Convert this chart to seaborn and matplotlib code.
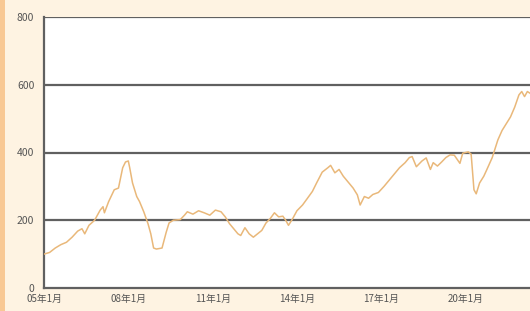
import pandas as pd
import matplotlib.pyplot as plt
import seaborn as sns
from matplotlib.patches import Rectangle

# 年（小数）と値
years = [2005.0, 2005.2, 2005.4, 2005.6, 2005.8, 2006.0, 2006.2, 2006.35, 2006.45, 2006.6,
         2006.8, 2007.0, 2007.1, 2007.15, 2007.3, 2007.5, 2007.65, 2007.8, 2007.9, 2008.0,
         2008.05, 2008.15, 2008.3, 2008.4, 2008.55, 2008.7, 2008.8, 2008.9, 2009.0, 2009.2,
         2009.35, 2009.45, 2009.6, 2009.85, 2010.0, 2010.1, 2010.3, 2010.5, 2010.7, 2010.9,
         2011.1, 2011.3, 2011.45, 2011.6, 2011.75, 2011.9, 2012.0, 2012.15, 2012.3, 2012.45,
         2012.6, 2012.75, 2012.9, 2013.05, 2013.2, 2013.35, 2013.5, 2013.6, 2013.7, 2013.85,
         2014.0, 2014.2, 2014.35, 2014.55, 2014.7, 2014.9, 2015.1, 2015.2, 2015.35, 2015.5,
         2015.65, 2015.85, 2016.0, 2016.15, 2016.25, 2016.4, 2016.55, 2016.7, 2016.9, 2017.1,
         2017.3, 2017.5, 2017.65, 2017.85, 2018.0, 2018.1, 2018.25, 2018.45, 2018.6, 2018.75,
         2018.85, 2019.0, 2019.15, 2019.3, 2019.45, 2019.6, 2019.8, 2019.9, 2020.1, 2020.2,
         2020.3, 2020.38, 2020.5, 2020.65, 2020.75, 2020.95, 2021.15, 2021.3, 2021.45, 2021.6,
         2021.75, 2021.9, 2022.0, 2022.1, 2022.2, 2022.35]
values = [100, 105, 118, 128, 135, 150, 168, 175, 160, 185,
          200, 230, 240, 222, 255, 290, 295, 355, 372, 375,
          355, 310, 270, 255, 225, 190, 160, 118, 115, 118,
          165, 192, 200, 202, 215, 225, 218, 228, 222, 215,
          230, 225, 210, 190, 175, 160, 155, 178, 160, 150,
          160, 170, 192, 205, 222, 210, 212, 200, 185, 205,
          228, 245, 262, 285, 310, 342, 355, 362, 340, 350,
          330, 310, 295, 275, 245, 270, 265, 276, 282, 300,
          320, 340, 355, 370, 385, 388, 358, 375, 384, 350,
          370, 360, 372, 385, 393, 392, 368, 398, 402, 395,
          290, 278, 310, 330, 348, 385, 437, 465, 485, 505,
          534, 570, 580, 565, 580, 572]

tick_years = [2005, 2008, 2011, 2014, 2017, 2020]
tick_labels = ["05年1月", "08年1月", "11年1月", "14年1月", "17年1月", "20年1月"]
y_ticks = [0, 200, 400, 600, 800]

df = pd.DataFrame({"year": years, "value": values})

sns.set_style("white")
plt.rcParams['font.family'] = ['Noto Sans CJK JP', 'DejaVu Sans']

fig = plt.figure(figsize=(5.3, 3.11), dpi=100, facecolor="#fef3e2")
ax = fig.add_axes([44 / 530, 23 / 311, 496 / 530, 271 / 311])
ax.set_facecolor("white")

# 左端のオレンジの帯
fig.patches.append(Rectangle((0, 0), 5 / 530, 1, transform=fig.transFigure,
                             facecolor="#f8c894", edgecolor="none", zorder=0))

for y in [200, 400, 600, 800]:
    ax.axhline(y, color="#606060", lw=1.6, zorder=1)

sns.lineplot(data=df, x="year", y="value", ax=ax, color="#e9b87a", lw=1.1, zorder=3)

ax.set_xlim(2005, 2022.65)
ax.set_ylim(0, 800)
ax.set_xticks(tick_years)
ax.set_xticklabels(tick_labels)
ax.set_xticks(range(2005, 2023), minor=True)
ax.set_yticks(y_ticks)
ax.tick_params(axis="x", which="both", direction="in", length=2.5, width=1,
               color="#606060", labelsize=7, labelcolor="#555555", pad=4)
ax.tick_params(axis="y", which="both", length=0, labelsize=7.5,
               labelcolor="#555555", pad=7)
ax.set_xlabel("")
ax.set_ylabel("")

for s in ["top", "right"]:
    ax.spines[s].set_visible(False)
for s in ["left", "bottom"]:
    ax.spines[s].set_color("#606060")
    ax.spines[s].set_linewidth(1.6)

fig.savefig("out.png", dpi=100, facecolor=fig.get_facecolor())
